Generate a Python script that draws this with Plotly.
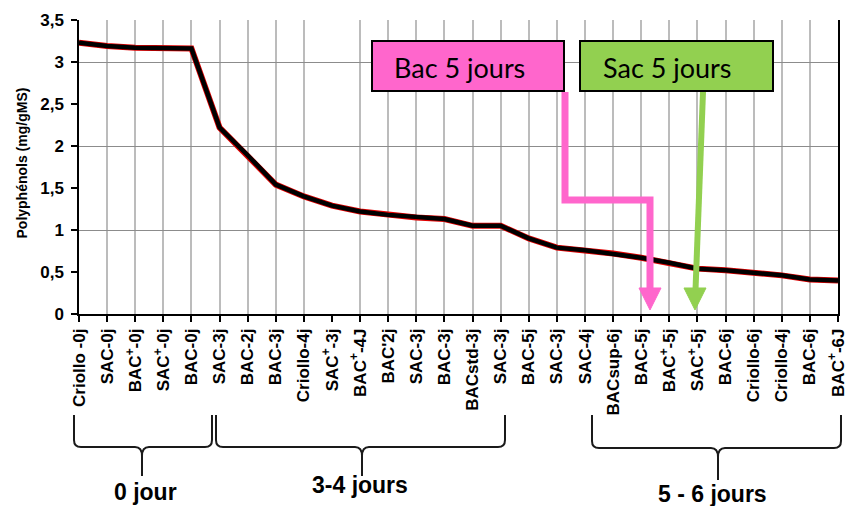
import plotly.graph_objects as go

# ---------------- data ----------------
categories = [
    "Criollo -0j", "SAC-0j", "BAC<sup>+</sup>-0j", "SAC<sup>+</sup>-0j", "BAC-0j",
    "SAC-3j", "BAC-2j", "BAC-3j", "Criollo-4j", "SAC<sup>+</sup>-3j",
    "BAC<sup>+</sup>-4J", "BAC'2j", "SAC-3j", "BAC-3j", "BACstd-3j",
    "SAC-3j", "BAC-5j", "SAC-3j", "SAC-4j", "BACsup-6j",
    "BAC-5j", "BAC<sup>+</sup>-5j", "SAC<sup>+</sup>-5j", "BAC-6j", "Criollo-6j",
    "Criollo-4j", "BAC-6j", "BAC<sup>+</sup>-6J",
]
polyphenols = [
    3.23, 3.19, 3.17, 3.16, 3.16,
    2.22, 1.89, 1.54, 1.40, 1.29,
    1.22, 1.18, 1.15, 1.13, 1.05,
    1.05, 0.90, 0.79, 0.76, 0.72,
    0.67, 0.61, 0.54, 0.52, 0.49,
    0.46, 0.41, 0.40,
]
y_ticks = [0, 0.5, 1, 1.5, 2, 2.5, 3, 3.5]
y_grid = [1, 2, 3]
group_labels = ["0 jour", "3-4 jours", "5 - 6 jours"]
box_labels = ["Bac 5 jours", "Sac 5 jours"]
y_title = "Polyphénols (mg/gMS)"

# ---------------- layout helpers (pixel -> paper) ----------------
W, H = 845, 506
X0, X1, Y0, Y1 = 79, 838, 20, 314


def px(x):
    return (x - X0) / (X1 - X0)


def py(y):
    return (Y1 - y) / (Y1 - Y0)


def P(x, y):
    return f"{px(x):.5f},{py(y):.5f}"


xs = list(range(len(categories)))
grid_x = [i for i in xs if i != 9]

fig = go.Figure()
fig.add_trace(go.Scatter(x=xs, y=polyphenols, mode="lines",
                         line=dict(color="#e00000", width=6), hoverinfo="skip",
                         showlegend=False))
fig.add_trace(go.Scatter(x=xs, y=polyphenols, mode="lines",
                         line=dict(color="black", width=4.5), showlegend=False))
# invisible trace for grid overlay axes
fig.add_trace(go.Scatter(x=[0], y=[0], xaxis="x2", yaxis="y2", mode="markers",
                         marker=dict(opacity=0), showlegend=False, hoverinfo="skip"))

bold = dict(family="Liberation Sans, Arial, sans-serif", color="black", weight="bold")

fig.update_layout(
    width=W, height=H,
    margin=dict(l=X0, r=W - X1, t=Y0, b=H - Y1, autoexpand=False),
    paper_bgcolor="white", plot_bgcolor="white",
    separators=", ",
    showlegend=False,
    xaxis=dict(range=[0, len(categories) - 1], tickmode="array", tickvals=xs,
               ticktext=categories, tickangle=-90, showgrid=False, zeroline=False,
               showline=True, linecolor="black", linewidth=1.5, automargin=False,
               ticks="outside", ticklen=6, tickwidth=1.5, tickcolor="black",
               ticklabeloverflow="allow",
               tickfont=dict(size=17, **bold)),
    yaxis=dict(range=[0, 3.5], tickmode="array", tickvals=y_ticks,
               ticktext=[f"{v:g}".replace(".", ",") for v in y_ticks],
               showgrid=False, zeroline=False, automargin=False,
               showline=True, linecolor="black", linewidth=1.5, mirror=True,
               ticks="outside", ticklen=6, tickwidth=1.5, tickcolor="black",
               ticklabelstandoff=4, ticklabeloverflow="allow",
               tickfont=dict(size=17, **bold)),
    xaxis2=dict(overlaying="x", range=[0, len(categories) - 1], tickmode="array",
                tickvals=grid_x, showgrid=True, gridcolor="#bcbcbc", gridwidth=1.5,
                showticklabels=False, ticks="", zeroline=False, showline=False,
                automargin=False),
    yaxis2=dict(overlaying="y", range=[0, 3.5], tickmode="array", tickvals=y_grid,
                showgrid=True, gridcolor="#8c8c8c", gridwidth=1.2,
                showticklabels=False, ticks="", zeroline=False, showline=False,
                automargin=False),
)

shapes = []
# label boxes
shapes.append(dict(type="rect", xref="paper", yref="paper",
                   x0=px(372), x1=px(564), y0=py(91), y1=py(41),
                   fillcolor="#ff66cc", line=dict(color="black", width=2)))
shapes.append(dict(type="rect", xref="paper", yref="paper",
                   x0=px(580), x1=px(773), y0=py(91), y1=py(41),
                   fillcolor="#92d050", line=dict(color="black", width=2)))
# pink elbow arrow
shapes.append(dict(type="path", xref="paper", yref="paper",
                   path=f"M{P(565, 92)} L{P(565, 200)} L{P(650, 200)} L{P(650, 290)}",
                   line=dict(color="#ff66cc", width=7)))
shapes.append(dict(type="path", xref="paper", yref="paper",
                   path=f"M{P(639, 288)} L{P(661, 288)} L{P(650, 310)} Z",
                   fillcolor="#ff66cc", line=dict(color="#ff66cc", width=1)))
# green arrow
shapes.append(dict(type="path", xref="paper", yref="paper",
                   path=f"M{P(703, 92)} L{P(695.5, 290)}",
                   line=dict(color="#92d050", width=6)))
shapes.append(dict(type="path", xref="paper", yref="paper",
                   path=f"M{P(684, 288)} L{P(706, 288)} L{P(695, 310)} Z",
                   fillcolor="#92d050", line=dict(color="#92d050", width=1)))


def brace(xl, xr, xm, ytop, yh, ytip, r=7):
    return (f"M{P(xl, ytop)} L{P(xl, yh - r)} Q{P(xl, yh)} {P(xl + r, yh)} "
            f"L{P(xm - r, yh)} Q{P(xm, yh)} {P(xm, yh + 9)} L{P(xm, ytip)} "
            f"M{P(xm, yh + 9)} Q{P(xm, yh)} {P(xm + r, yh)} "
            f"L{P(xr - r, yh)} Q{P(xr, yh)} {P(xr, yh - r)} L{P(xr, ytop)}")


for (xl, xr, xm, yh, yt) in [(74, 212, 142, 447, 476), (216, 505, 362, 447, 476),
                             (592, 841, 718, 448, 480)]:
    shapes.append(dict(type="path", xref="paper", yref="paper",
                       path=brace(xl, xr, xm, 415, yh, yt),
                       line=dict(color="#1a1a1a", width=2)))
fig.update_layout(shapes=shapes)

ann = []
ann.append(dict(text=box_labels[0], xref="paper", yref="paper", x=px(392), y=py(68),
                xanchor="left", yanchor="middle", showarrow=False,
                font=dict(family="Lato, Carlito, sans-serif", size=27, color="black")))
ann.append(dict(text=box_labels[1], xref="paper", yref="paper", x=px(601), y=py(68),
                xanchor="left", yanchor="middle", showarrow=False,
                font=dict(family="Lato, Carlito, sans-serif", size=27, color="black")))
for txt, cx, cy in zip(group_labels, [145.5, 360, 712.5], [492, 485, 494]):
    ann.append(dict(text=txt, xref="paper", yref="paper", x=px(cx), y=py(cy),
                    xanchor="center", yanchor="middle", showarrow=False,
                    font=dict(size=23, **bold)))
ann.append(dict(text=y_title, xref="paper", yref="paper", x=px(21.5), y=py(163),
                xanchor="center", yanchor="middle", textangle=-90, showarrow=False,
                font=dict(size=14, **bold)))
fig.update_layout(annotations=ann)

fig.write_html("out.html", config={"displayModeBar": False},
               post_script="document.body.style.margin='0';document.body.style.padding='0';")
